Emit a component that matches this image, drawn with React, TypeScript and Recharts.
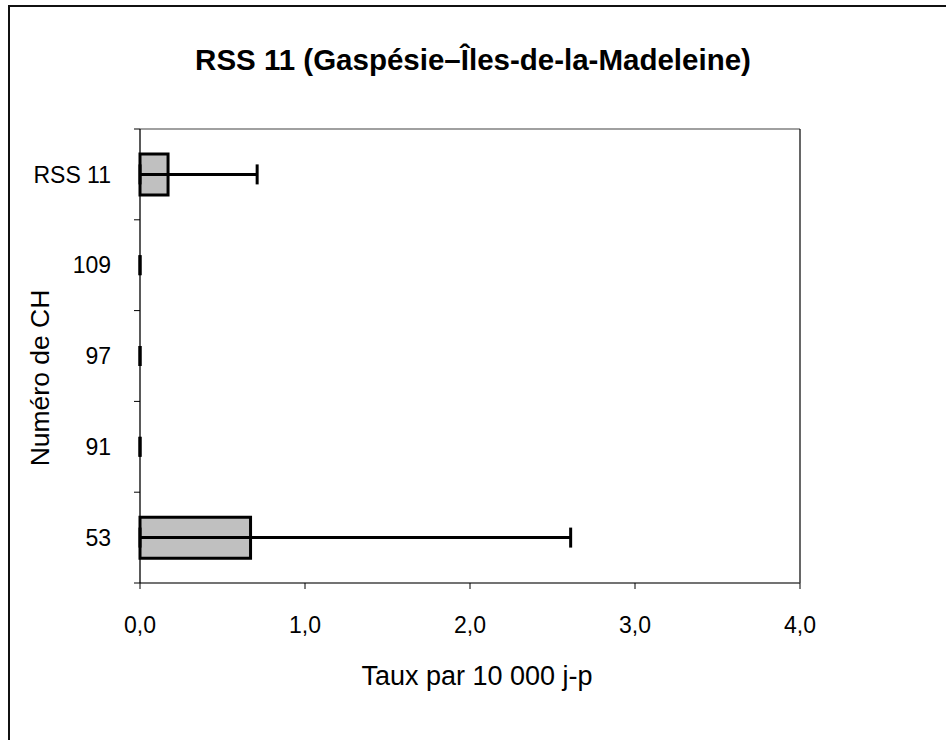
import { BarChart, Bar, XAxis, YAxis, Label, ReferenceArea, ReferenceLine, ReferenceDot } from "recharts"

const categories = ["RSS 11", "109", "97", "91", "53"]
const rates = [0.17, 0, 0, 0, 0.67]
const lowerCI = [0, 0, 0, 0, 0]
const upperCI = [0.71, 0, 0, 0, 2.61]
const xTicks = [0, 1, 2, 3, 4]

const data = categories.map((name, i) => ({ name, rate: rates[i] }))

const font = "'Liberation Sans', Arial, sans-serif"
const TICK_SIZE = 6
const TICK_GAP = 29

// category label plus the short tick marks sitting on the band edges
const CategoryTick = (props: any) => {
  const { x, y, payload, index, visibleTicksCount } = props
  const half = payload?.offset ?? 0
  const axisX = x + TICK_GAP
  const isLast = visibleTicksCount ? index === visibleTicksCount - 1 : payload.value === categories[categories.length - 1]
  return (
    <g>
      <text x={x} y={y} dy="0.355em" textAnchor="end" fontSize={23} fontFamily={font} fill="#000">
        {payload.value}
      </text>
      <line x1={axisX - TICK_SIZE} x2={axisX} y1={y - half} y2={y - half} stroke="#000" />
      {isLast && <line x1={axisX - TICK_SIZE} x2={axisX} y1={y + half} y2={y + half} stroke="#000" />}
    </g>
  )
}

// top edge of the plot area in grey, right edge in black
const PlotFrame = (props: any) => {
  const { x, y, width, height } = props
  return (
    <g>
      <line x1={x} x2={x + width} y1={y} y2={y} stroke="#808080" strokeWidth={1.5} />
      <line x1={x + width} x2={x + width} y1={y} y2={y + height} stroke="#000" strokeWidth={1.2} />
    </g>
  )
}

// whisker cap, 20px tall
const Cap = (props: any) => (
  <line x1={props.cx} x2={props.cx} y1={props.cy - 10} y2={props.cy + 10} stroke="#000" strokeWidth={3} />
)

export default function App() {
  return (
    <div style={{ position: "fixed", left: 0, top: 0, width: 946, height: 740, overflow: "hidden", background: "#fff" }}>
      <div
        style={{
          position: "absolute",
          left: 8,
          top: 5,
          width: 1000,
          height: 1000,
          border: "2px solid #111",
          boxSizing: "border-box",
        }}
      />
      <div
        style={{
          position: "absolute",
          left: 0,
          width: 946,
          top: 43,
          textAlign: "center",
          fontFamily: font,
          fontWeight: "bold",
          fontSize: 29.5,
          color: "#000",
        }}
      >
        RSS 11 (Gaspésie–Îles-de-la-Madeleine)
      </div>
      <div style={{ position: "absolute", left: 0, top: 0 }}>
        <BarChart
          width={946}
          height={740}
          data={data}
          layout="vertical"
          margin={{ top: 129, right: 146, left: 0, bottom: 0 }}
          barCategoryGap={0}
        >
          <XAxis
            type="number"
            domain={[0, 4]}
            ticks={xTicks}
            tickSize={TICK_SIZE}
            tickMargin={28}
            height={157}
            tickFormatter={(v: number) => v.toFixed(1).replace(".", ",")}
            tick={{ fill: "#000", fontSize: 23, fontFamily: font }}
            axisLine={{ stroke: "#444", strokeWidth: 1.5 }}
            tickLine={{ stroke: "#000" }}
          >
            <Label
              content={({ viewBox }: any) => (
                <text
                  x={viewBox.x + viewBox.width / 2 + 7}
                  y={viewBox.y + 102}
                  textAnchor="middle"
                  fontSize={27}
                  fontFamily={font}
                  fill="#000"
                >
                  Taux par 10 000 j-p
                </text>
              )}
            />
          </XAxis>
          <YAxis
            yAxisId="cat"
            type="category"
            dataKey="name"
            width={140}
            axisLine={{ stroke: "#000", strokeWidth: 1.3 }}
            tickLine={false}
            tickSize={0}
            tickMargin={TICK_GAP}
            tick={<CategoryTick />}
          >
            <Label
              content={({ viewBox }: any) => {
                const cx = viewBox.x + 40
                const cy = viewBox.y + viewBox.height / 2 + 22
                return (
                  <text
                    x={cx}
                    y={cy}
                    transform={`rotate(-90, ${cx}, ${cy})`}
                    textAnchor="middle"
                    dominantBaseline="central"
                    fontSize={26.5}
                    fontFamily={font}
                    fill="#000"
                  >
                    Numéro de CH
                  </text>
                )
              }}
            />
          </YAxis>
          <ReferenceArea x1={0} x2={4} yAxisId="cat" shape={<PlotFrame />} />
          <Bar
            dataKey="rate"
            yAxisId="cat"
            barSize={41}
            fill="#c0c0c0"
            stroke="#000"
            strokeWidth={3}
            isAnimationActive={false}
          />
          {categories.map((name, i) => (
            <ReferenceLine
              key={`ci-${name}`}
              yAxisId="cat"
              segment={[
                { x: lowerCI[i], y: name },
                { x: upperCI[i], y: name },
              ]}
              stroke="#000"
              strokeWidth={3}
            />
          ))}
          {categories.map((name, i) => (
            <ReferenceDot key={`lo-${name}`} yAxisId="cat" x={lowerCI[i]} y={name} shape={<Cap />} />
          ))}
          {categories.map((name, i) => (
            <ReferenceDot key={`hi-${name}`} yAxisId="cat" x={upperCI[i]} y={name} shape={<Cap />} />
          ))}
        </BarChart>
      </div>
    </div>
  )
}
